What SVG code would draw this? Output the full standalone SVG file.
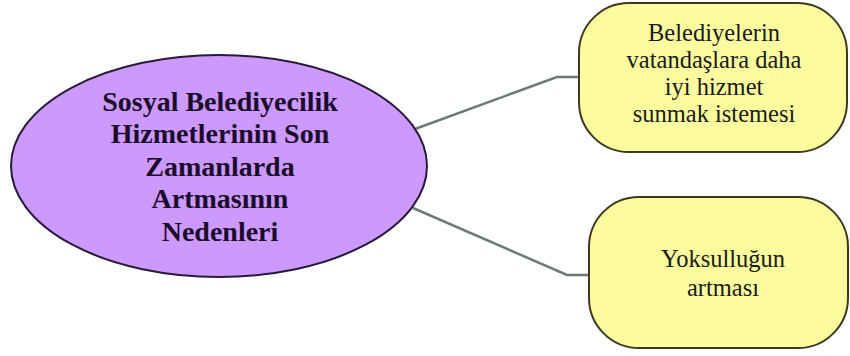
<svg xmlns="http://www.w3.org/2000/svg" width="850" height="356" viewBox="0 0 850 356">
<style>
.bg{fill:#ffffff}
.main{fill:#cc99fc;stroke:#2a1a3a;stroke-width:2}
.box{fill:#fcfc9e;stroke:#3a3a20;stroke-width:2}
.conn{fill:none;stroke:#6e7a78;stroke-width:2.5}
text{font-family:'Liberation Serif','Times New Roman','DejaVu Serif',serif;text-anchor:middle}
.t1{font-weight:bold;font-size:28px;fill:#1c0c2c}
.t2{font-size:24.5px;fill:#1a1a1a}
</style>
<rect class="bg" width="850" height="356"/>
<g id="connectors">
<polyline class="conn" points="415,129 557,77 578,77"/>
<polyline class="conn" points="413,208 567,275 588,275"/>
</g>
<g id="main">
<ellipse class="main" cx="219" cy="166" rx="208" ry="111"/>
<text class="t1" x="220" y="111">Sosyal Belediyecilik</text>
<text class="t1" x="220" y="143">Hizmetlerinin Son</text>
<text class="t1" x="220" y="176">Zamanlarda</text>
<text class="t1" x="220" y="208">Artmasının</text>
<text class="t1" x="220" y="241">Nedenleri</text>
</g>
<g id="box1">
<rect class="box" x="579" y="3" width="268" height="149" rx="50" ry="50"/>
<text class="t2" x="714" y="41">Belediyelerin</text>
<text class="t2" x="714" y="68">vatandaşlara daha</text>
<text class="t2" x="714" y="95">iyi hizmet</text>
<text class="t2" x="714" y="122">sunmak istemesi</text>
</g>
<g id="box2">
<rect class="box" x="589" y="197" width="259" height="151" rx="50" ry="50"/>
<text class="t2" x="723" y="267">Yoksulluğun</text>
<text class="t2" x="723" y="296">artması</text>
</g>
</svg>
